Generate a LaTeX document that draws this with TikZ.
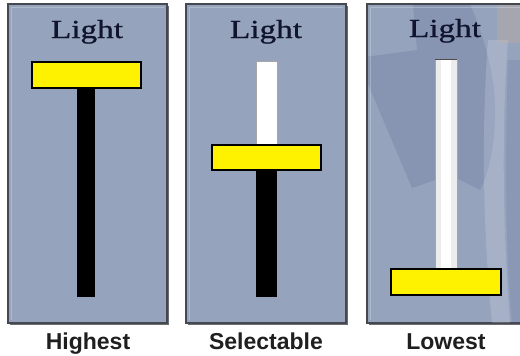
\documentclass[tikz,border=0pt]{standalone}
\usepackage{fontspec}
\setmainfont{Liberation Serif}
\newfontfamily\titlefont[FakeBold=0.7]{Liberation Serif}
\newfontfamily\lsans{Liberation Sans}
\definecolor{panelblue}{RGB}{149,163,189}
\definecolor{paneledge}{RGB}{70,72,80}
\definecolor{titleink}{RGB}{16,20,44}
\definecolor{wmdark}{RGB}{80,95,140}
\definecolor{wmorange}{RGB}{230,180,120}
\tikzset{
  panel/.style={fill=panelblue, draw=paneledge, line width=1.2pt},
  bevel/.style={draw=white, opacity=0.25, line width=1pt},
  bartrack/.style={fill=black, draw=none},
  whitetrack/.style={fill=white, draw=gray!70, line width=0.6pt},
  knob/.style={fill=yellow, draw=black, line width=1.4pt},
  title/.style={anchor=base, text=titleink, font=\titlefont\fontsize{26}{30}\selectfont, inner sep=0pt},
  caption/.style={anchor=base, text=black!88, font=\lsans\bfseries\fontsize{23}{27}\selectfont, inner sep=0pt},
}
\begin{document}
\begin{tikzpicture}[x=1pt,y=-1pt]
\useasboundingbox (0,0) rectangle (520,356);
\fill[white] (0,0) rectangle (520,356);
% ---------- panel 1: Highest ----------
\draw[line width=2pt, paneledge!80] (10,324) -- (168,324) -- (168,6);
\draw[panel] (8,4) rectangle (167,323);
\draw[bevel] (11,320) -- (11,7) -- (164,7);
\node[title] (t1) at (87,38) {\scalebox{1.28}[1]{Light}};
\fill[bartrack] (77,88) rectangle (95,297);
\draw[knob] (32,62) rectangle (141,88);
\node[caption] (c1) at (88,349.5) {Highest};
% ---------- panel 2: Selectable ----------
\draw[line width=2pt, paneledge!80] (188,324) -- (347,324) -- (347,6);
\draw[panel] (186,4) rectangle (346,323);
\draw[bevel] (189,320) -- (189,7) -- (343,7);
\node[title] (t2) at (266,38) {\scalebox{1.28}[1]{Light}};
\draw[whitetrack] (256,61) rectangle (277,145);
\fill[bartrack] (256,170) rectangle (277,297);
\draw[knob] (212,145) rectangle (321,170);
\node[caption] (c2) at (266,349.5) {Selectable};
% ---------- panel 3: Lowest ----------
\draw[line width=2pt, paneledge!80] (369,324) -- (521,324);
\draw[panel] (367,4) rectangle (524,323);
\begin{scope}
  \clip (368,5) rectangle (520,322);
  % faint watermark shapes
  \fill[wmdark, opacity=0.2] (357,58) -- (417,50) -- (413,4) -- (470,4)
     .. controls (485,40) and (497,80) .. (495,120)
     .. controls (494,150) and (488,175) .. (480,190) -- (450,175) -- (412,188) -- cycle;
  \fill[wmdark, opacity=0.15] (508,60) .. controls (505,150) and (505,250) .. (512,323)
     -- (521,323) -- (521,60) -- cycle;
  \fill[white, opacity=0.16] (488,40) .. controls (482,120) and (482,220) .. (492,323)
     -- (510,323) .. controls (502,220) and (502,120) .. (508,40) -- cycle;
  \fill[wmorange, opacity=0.2] (497,4) rectangle (520,43);
\end{scope}
\draw[bevel] (370,320) -- (370,7) -- (520,7);
\node[title] (t3) at (445,37) {\scalebox{1.28}[1]{Light}};
\draw[whitetrack, fill=white!85!gray] (435,59) rectangle (457,269);
\fill[white] (441,60) rectangle (451,268);
\draw[black!70, line width=1pt] (435,59) -- (457,59);
\draw[knob] (391,269) rectangle (501,295);
\node[caption] (c3) at (446,349.5) {Lowest};
\end{tikzpicture}
\end{document}
